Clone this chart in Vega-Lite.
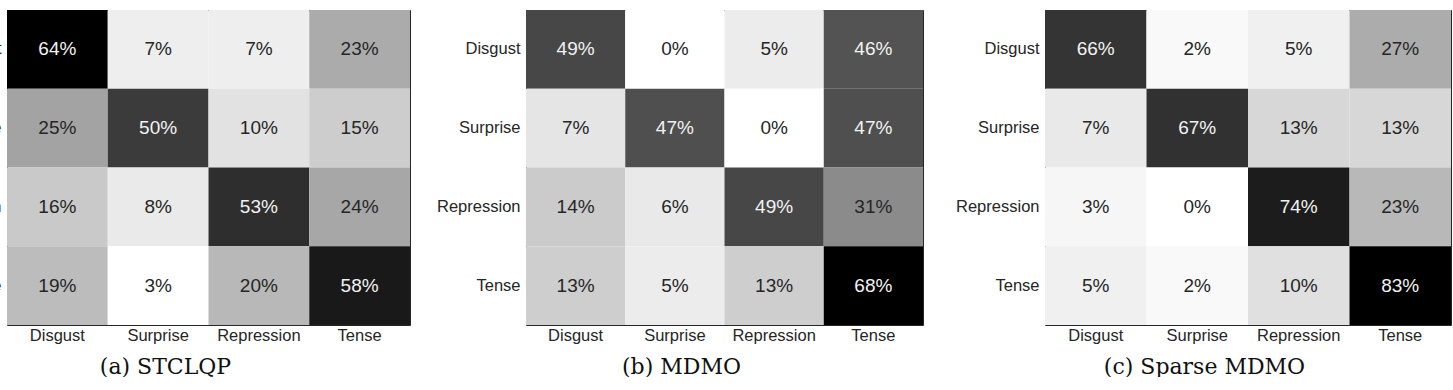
{
  "$schema": "https://vega.github.io/schema/vega-lite/v6.json",
  "background": "white",
  "padding": {"left": -93, "top": 9, "right": 4, "bottom": 0},
  "spacing": 10,
  "config": {
    "view": {"stroke": null},
    "font": "Liberation Sans",
    "axis": {
      "grid": false,
      "zindex": 1,
      "domainColor": "#262626",
      "domainWidth": 1,
      "tickColor": "#262626",
      "tickWidth": 1,
      "tickSize": -4,
      "labelFont": "Liberation Sans",
      "labelFontSize": 16.5,
      "labelColor": "#262626",
      "labelAngle": 0,
      "bandPosition": 0.5
    }
  },
  "datasets": {
    "cm": [
      {"method": "STCLQP", "actual": "Disgust", "predicted": "Disgust", "rate": 0.64},
      {"method": "STCLQP", "actual": "Disgust", "predicted": "Surprise", "rate": 0.07},
      {"method": "STCLQP", "actual": "Disgust", "predicted": "Repression", "rate": 0.07},
      {"method": "STCLQP", "actual": "Disgust", "predicted": "Tense", "rate": 0.23},
      {"method": "STCLQP", "actual": "Surprise", "predicted": "Disgust", "rate": 0.25},
      {"method": "STCLQP", "actual": "Surprise", "predicted": "Surprise", "rate": 0.50},
      {"method": "STCLQP", "actual": "Surprise", "predicted": "Repression", "rate": 0.10},
      {"method": "STCLQP", "actual": "Surprise", "predicted": "Tense", "rate": 0.15},
      {"method": "STCLQP", "actual": "Repression", "predicted": "Disgust", "rate": 0.16},
      {"method": "STCLQP", "actual": "Repression", "predicted": "Surprise", "rate": 0.08},
      {"method": "STCLQP", "actual": "Repression", "predicted": "Repression", "rate": 0.53},
      {"method": "STCLQP", "actual": "Repression", "predicted": "Tense", "rate": 0.24},
      {"method": "STCLQP", "actual": "Tense", "predicted": "Disgust", "rate": 0.19},
      {"method": "STCLQP", "actual": "Tense", "predicted": "Surprise", "rate": 0.03},
      {"method": "STCLQP", "actual": "Tense", "predicted": "Repression", "rate": 0.20},
      {"method": "STCLQP", "actual": "Tense", "predicted": "Tense", "rate": 0.58},

      {"method": "MDMO", "actual": "Disgust", "predicted": "Disgust", "rate": 0.49},
      {"method": "MDMO", "actual": "Disgust", "predicted": "Surprise", "rate": 0.00},
      {"method": "MDMO", "actual": "Disgust", "predicted": "Repression", "rate": 0.05},
      {"method": "MDMO", "actual": "Disgust", "predicted": "Tense", "rate": 0.46},
      {"method": "MDMO", "actual": "Surprise", "predicted": "Disgust", "rate": 0.07},
      {"method": "MDMO", "actual": "Surprise", "predicted": "Surprise", "rate": 0.47},
      {"method": "MDMO", "actual": "Surprise", "predicted": "Repression", "rate": 0.00},
      {"method": "MDMO", "actual": "Surprise", "predicted": "Tense", "rate": 0.47},
      {"method": "MDMO", "actual": "Repression", "predicted": "Disgust", "rate": 0.14},
      {"method": "MDMO", "actual": "Repression", "predicted": "Surprise", "rate": 0.06},
      {"method": "MDMO", "actual": "Repression", "predicted": "Repression", "rate": 0.49},
      {"method": "MDMO", "actual": "Repression", "predicted": "Tense", "rate": 0.31},
      {"method": "MDMO", "actual": "Tense", "predicted": "Disgust", "rate": 0.13},
      {"method": "MDMO", "actual": "Tense", "predicted": "Surprise", "rate": 0.05},
      {"method": "MDMO", "actual": "Tense", "predicted": "Repression", "rate": 0.13},
      {"method": "MDMO", "actual": "Tense", "predicted": "Tense", "rate": 0.68},

      {"method": "Sparse MDMO", "actual": "Disgust", "predicted": "Disgust", "rate": 0.66},
      {"method": "Sparse MDMO", "actual": "Disgust", "predicted": "Surprise", "rate": 0.02},
      {"method": "Sparse MDMO", "actual": "Disgust", "predicted": "Repression", "rate": 0.05},
      {"method": "Sparse MDMO", "actual": "Disgust", "predicted": "Tense", "rate": 0.27},
      {"method": "Sparse MDMO", "actual": "Surprise", "predicted": "Disgust", "rate": 0.07},
      {"method": "Sparse MDMO", "actual": "Surprise", "predicted": "Surprise", "rate": 0.67},
      {"method": "Sparse MDMO", "actual": "Surprise", "predicted": "Repression", "rate": 0.13},
      {"method": "Sparse MDMO", "actual": "Surprise", "predicted": "Tense", "rate": 0.13},
      {"method": "Sparse MDMO", "actual": "Repression", "predicted": "Disgust", "rate": 0.03},
      {"method": "Sparse MDMO", "actual": "Repression", "predicted": "Surprise", "rate": 0.00},
      {"method": "Sparse MDMO", "actual": "Repression", "predicted": "Repression", "rate": 0.74},
      {"method": "Sparse MDMO", "actual": "Repression", "predicted": "Tense", "rate": 0.23},
      {"method": "Sparse MDMO", "actual": "Tense", "predicted": "Disgust", "rate": 0.05},
      {"method": "Sparse MDMO", "actual": "Tense", "predicted": "Surprise", "rate": 0.02},
      {"method": "Sparse MDMO", "actual": "Tense", "predicted": "Repression", "rate": 0.10},
      {"method": "Sparse MDMO", "actual": "Tense", "predicted": "Tense", "rate": 0.83}
    ]
  },
  "resolve": {"scale": {"color": "independent"}},
  "hconcat": [
    {
      "width": 403,
      "height": 315,
      "data": {"name": "cm"},
      "transform": [{"filter": "datum.method === 'STCLQP'"}],
      "layer": [
        {
          "mark": {"type": "rect"},
          "encoding": {
            "x": {"field": "predicted", "type": "nominal", "sort": ["Disgust", "Surprise", "Repression", "Tense"], "scale": {"paddingInner": 0, "paddingOuter": 0},
              "axis": {"orient": "bottom", "labelPadding": 6, "title": "(a) STCLQP", "titleFont": "DejaVu Serif", "titleFontSize": 22, "titleFontWeight": "normal", "titleColor": "#111111", "titleX": 158, "titleY": 48, "titleBaseline": "alphabetic"}},
            "y": {"field": "actual", "type": "nominal", "sort": ["Disgust", "Surprise", "Repression", "Tense"], "scale": {"paddingInner": 0, "paddingOuter": 0},
              "axis": {"orient": "left", "title": null, "labelPadding": 10, "minExtent": 100, "maxExtent": 100}},
            "color": {"field": "rate", "type": "quantitative", "scale": {"range": ["#ffffff", "#000000"], "interpolate": "rgb", "zero": false, "nice": false}, "legend": null}
          }
        },
        {
          "mark": {"type": "text", "font": "Liberation Sans", "fontSize": 19},
          "encoding": {
            "x": {"field": "predicted", "type": "nominal", "sort": ["Disgust", "Surprise", "Repression", "Tense"], "scale": {"paddingInner": 0, "paddingOuter": 0},
              "axis": {"orient": "top", "labels": false, "title": null, "minExtent": 0, "maxExtent": 0}},
            "y": {"field": "actual", "type": "nominal", "sort": ["Disgust", "Surprise", "Repression", "Tense"], "scale": {"paddingInner": 0, "paddingOuter": 0},
              "axis": {"orient": "right", "labels": false, "title": null, "minExtent": 0, "maxExtent": 0}},
            "text": {"field": "rate", "type": "quantitative", "format": ".0%"},
            "color": {"condition": {"test": "datum.rate >= 0.4", "value": "#f2f2f2"}, "value": "#262626"}
          }
        }
      ],
      "resolve": {"axis": {"x": "independent", "y": "independent"}}
    },
    {
      "width": 397,
      "height": 315,
      "data": {"name": "cm"},
      "transform": [{"filter": "datum.method === 'MDMO'"}],
      "layer": [
        {
          "mark": {"type": "rect"},
          "encoding": {
            "x": {"field": "predicted", "type": "nominal", "sort": ["Disgust", "Surprise", "Repression", "Tense"], "scale": {"paddingInner": 0, "paddingOuter": 0},
              "axis": {"orient": "bottom", "labelPadding": 6, "title": "(b) MDMO", "titleFont": "DejaVu Serif", "titleFontSize": 22, "titleFontWeight": "normal", "titleColor": "#111111", "titleX": 155, "titleY": 48, "titleBaseline": "alphabetic"}},
            "y": {"field": "actual", "type": "nominal", "sort": ["Disgust", "Surprise", "Repression", "Tense"], "scale": {"paddingInner": 0, "paddingOuter": 0},
              "axis": {"orient": "left", "title": null, "labelPadding": 10, "minExtent": 105, "maxExtent": 105}},
            "color": {"field": "rate", "type": "quantitative", "scale": {"range": ["#ffffff", "#000000"], "interpolate": "rgb", "zero": false, "nice": false}, "legend": null}
          }
        },
        {
          "mark": {"type": "text", "font": "Liberation Sans", "fontSize": 19},
          "encoding": {
            "x": {"field": "predicted", "type": "nominal", "sort": ["Disgust", "Surprise", "Repression", "Tense"], "scale": {"paddingInner": 0, "paddingOuter": 0},
              "axis": {"orient": "top", "labels": false, "title": null, "minExtent": 0, "maxExtent": 0}},
            "y": {"field": "actual", "type": "nominal", "sort": ["Disgust", "Surprise", "Repression", "Tense"], "scale": {"paddingInner": 0, "paddingOuter": 0},
              "axis": {"orient": "right", "labels": false, "title": null, "minExtent": 0, "maxExtent": 0}},
            "text": {"field": "rate", "type": "quantitative", "format": ".0%"},
            "color": {"condition": {"test": "datum.rate >= 0.4", "value": "#f2f2f2"}, "value": "#262626"}
          }
        }
      ],
      "resolve": {"axis": {"x": "independent", "y": "independent"}}
    },
    {
      "width": 406,
      "height": 315,
      "data": {"name": "cm"},
      "transform": [{"filter": "datum.method === 'Sparse MDMO'"}],
      "layer": [
        {
          "mark": {"type": "rect"},
          "encoding": {
            "x": {"field": "predicted", "type": "nominal", "sort": ["Disgust", "Surprise", "Repression", "Tense"], "scale": {"paddingInner": 0, "paddingOuter": 0},
              "axis": {"orient": "bottom", "labelPadding": 6, "title": "(c) Sparse MDMO", "titleFont": "DejaVu Serif", "titleFontSize": 22, "titleFontWeight": "normal", "titleColor": "#111111", "titleX": 159, "titleY": 48, "titleBaseline": "alphabetic"}},
            "y": {"field": "actual", "type": "nominal", "sort": ["Disgust", "Surprise", "Repression", "Tense"], "scale": {"paddingInner": 0, "paddingOuter": 0},
              "axis": {"orient": "left", "title": null, "labelPadding": 10, "minExtent": 111, "maxExtent": 111}},
            "color": {"field": "rate", "type": "quantitative", "scale": {"range": ["#ffffff", "#000000"], "interpolate": "rgb", "zero": false, "nice": false}, "legend": null}
          }
        },
        {
          "mark": {"type": "text", "font": "Liberation Sans", "fontSize": 19},
          "encoding": {
            "x": {"field": "predicted", "type": "nominal", "sort": ["Disgust", "Surprise", "Repression", "Tense"], "scale": {"paddingInner": 0, "paddingOuter": 0},
              "axis": {"orient": "top", "labels": false, "title": null, "minExtent": 0, "maxExtent": 0}},
            "y": {"field": "actual", "type": "nominal", "sort": ["Disgust", "Surprise", "Repression", "Tense"], "scale": {"paddingInner": 0, "paddingOuter": 0},
              "axis": {"orient": "right", "labels": false, "title": null, "minExtent": 0, "maxExtent": 0}},
            "text": {"field": "rate", "type": "quantitative", "format": ".0%"},
            "color": {"condition": {"test": "datum.rate >= 0.4", "value": "#f2f2f2"}, "value": "#262626"}
          }
        }
      ],
      "resolve": {"axis": {"x": "independent", "y": "independent"}}
    }
  ]
}
